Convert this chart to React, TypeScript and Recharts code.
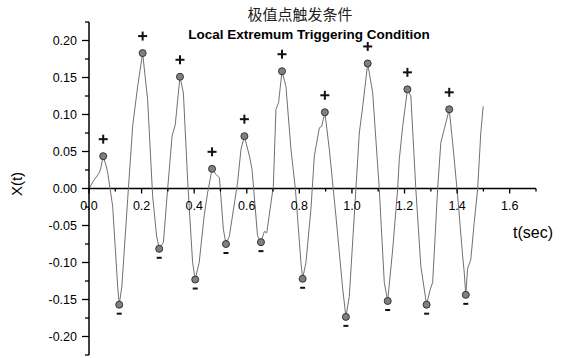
import { ComposedChart, Line, Scatter, XAxis, YAxis, ReferenceLine } from "recharts";

const tSec = [
  0.0, 0.02, 0.037, 0.044, 0.054, 0.064, 0.071, 0.09, 0.109, 0.115,
  0.125, 0.147, 0.166, 0.185, 0.204, 0.223, 0.242, 0.257, 0.267, 0.283,
  0.299, 0.316, 0.328, 0.346, 0.359, 0.375, 0.381, 0.394, 0.404, 0.419,
  0.438, 0.451, 0.468, 0.483, 0.496, 0.511, 0.521, 0.534, 0.565, 0.578,
  0.591, 0.61, 0.62, 0.641, 0.654, 0.667, 0.676, 0.701, 0.711, 0.721,
  0.734, 0.749, 0.768, 0.785, 0.806, 0.8125, 0.825, 0.844, 0.857, 0.876,
  0.885, 0.897, 0.914, 0.939, 0.965, 0.977, 0.99, 1.015, 1.028, 1.041,
  1.06, 1.079, 1.104, 1.123, 1.136, 1.155, 1.174, 1.18, 1.193, 1.211,
  1.224, 1.243, 1.262, 1.275, 1.284, 1.298, 1.307, 1.326, 1.338, 1.351,
  1.37, 1.383, 1.402, 1.421, 1.427, 1.433, 1.44, 1.452, 1.465, 1.478,
  1.49, 1.499,
];
const xVal = [
  0.0, 0.012, 0.02, 0.026, 0.0437, 0.032, 0.022, -0.024, -0.132, -0.157,
  -0.132, -0.015, 0.084, 0.138, 0.183, 0.12, -0.01, -0.064, -0.0815, -0.073,
  -0.001, 0.071, 0.086, 0.151, 0.129, 0.012, -0.024, -0.1, -0.123, -0.1,
  -0.037, -0.006, 0.0266, 0.019, 0.0144, -0.055, -0.075, -0.064, 0.0077, 0.053,
  0.0707, 0.044, 0.026, -0.064, -0.0725, -0.058, -0.06, 0.003, 0.107, 0.116,
  0.1585, 0.138, 0.053, -0.001, -0.1, -0.122, -0.1, -0.028, 0.044, 0.082,
  0.084, 0.103, 0.053, -0.037, -0.136, -0.1735, -0.146, -0.001, 0.075, 0.111,
  0.169, 0.129, -0.001, -0.127, -0.152, -0.082, 0.0, 0.039, 0.084, 0.134,
  0.125, -0.001, -0.105, -0.136, -0.157, -0.136, -0.127, 0.0, 0.062, 0.08,
  0.107, 0.062, -0.01, -0.091, -0.113, -0.1437, -0.108, -0.096, -0.046, -0.001,
  0.075, 0.111,
];

// local maxima (+) and minima (-)
const maxT = [0.054, 0.204, 0.346, 0.468, 0.591, 0.734, 0.897, 1.06, 1.211, 1.37];
const maxV = [0.0437, 0.183, 0.151, 0.0266, 0.0707, 0.1585, 0.103, 0.169, 0.134, 0.107];
const minT = [0.115, 0.267, 0.404, 0.521, 0.654, 0.8125, 0.977, 1.136, 1.284, 1.433];
const minV = [-0.157, -0.0815, -0.123, -0.075, -0.0725, -0.122, -0.1735, -0.152, -0.157, -0.1437];

const xTicks = [0, 0.1, 0.2, 0.3, 0.4, 0.5, 0.6, 0.7, 0.8, 0.9, 1.0, 1.1, 1.2, 1.3, 1.4, 1.5, 1.6, 1.7];
const yTicks = [
  -0.225, -0.2, -0.175, -0.15, -0.125, -0.1, -0.075, -0.05, -0.025, 0,
  0.025, 0.05, 0.075, 0.1, 0.125, 0.15, 0.175, 0.2, 0.225,
];

const FONT = "Arial, 'Liberation Sans', sans-serif";

const curve = tSec.map((t, i) => ({ t, v: xVal[i] }));
const maxima = maxT.map((t, i) => ({ t, v: maxV[i] }));
const minima = minT.map((t, i) => ({ t, v: minV[i] }));
const xTickData = xTicks.map((t) => ({ t, v: 0 }));

const isMajorX = (t: number) => Math.abs(t * 5 - Math.round(t * 5)) < 1e-6 && t < 1.65;
const isMajorY = (v: number) => Math.abs(v * 20 - Math.round(v * 20)) < 1e-6;

function YTick(props: any) {
  const { x, y, payload } = props;
  const major = isMajorY(payload.value);
  return (
    <g>
      <line x1={x - (major ? 7 : 4)} x2={x} y1={y} y2={y} stroke="#000" strokeWidth={1.3} />
      {major && (
        <text x={x - 12} y={y} dy={4.5} textAnchor="end" fontSize={12.5} fontFamily={FONT} fill="#000">
          {payload.value.toFixed(2)}
        </text>
      )}
    </g>
  );
}

// ticks of the x axis, which crosses at X(t) = 0
function XTickMark(props: any) {
  const { cx, cy, payload } = props;
  const major = isMajorX(payload.t);
  return (
    <g>
      <line x1={cx} x2={cx} y1={cy} y2={cy + (major ? 5 : 3)} stroke="#000" strokeWidth={1.3} />
      {major && (
        <text x={cx} y={cy + 21} textAnchor="middle" fontSize={12.5} fontFamily={FONT} fill="#000">
          {payload.t.toFixed(1)}
        </text>
      )}
    </g>
  );
}

function MaxMark(props: any) {
  const { cx, cy } = props;
  return (
    <g>
      <circle cx={cx} cy={cy} r={3.5} fill="#808080" stroke="#333" strokeWidth={1} />
      <line x1={cx - 4.5} x2={cx + 4.5} y1={cy - 17} y2={cy - 17} stroke="#111" strokeWidth={2} />
      <line x1={cx} x2={cx} y1={cy - 21.5} y2={cy - 12.5} stroke="#111" strokeWidth={2} />
    </g>
  );
}

function MinMark(props: any) {
  const { cx, cy } = props;
  return (
    <g>
      <circle cx={cx} cy={cy} r={3.5} fill="#808080" stroke="#333" strokeWidth={1} />
      <line x1={cx - 2.5} x2={cx + 2.5} y1={cy + 9} y2={cy + 9} stroke="#111" strokeWidth={2} />
    </g>
  );
}

export default function App() {
  return (
    <div style={{ position: "absolute", left: 0, top: 0, width: 562, height: 358, background: "#fff" }}>
      <ComposedChart width={562} height={358} margin={{ top: 22, right: 26, bottom: 3, left: 29 }}>
        <XAxis dataKey="t" type="number" domain={[0, 1.7]} hide />
        <YAxis
          dataKey="v"
          type="number"
          domain={[-0.225, 0.225]}
          ticks={yTicks}
          interval={0}
          width={60}
          tickSize={0}
          tickMargin={0}
          tickLine={false}
          tick={<YTick />}
          axisLine={{ stroke: "#000", strokeWidth: 1.5 }}
        />
        <ReferenceLine y={0} stroke="#000" strokeWidth={1.5} />
        <Line
          data={curve}
          dataKey="v"
          type="linear"
          stroke="#707070"
          strokeWidth={1}
          dot={false}
          activeDot={false}
          isAnimationActive={false}
        />
        <Scatter data={xTickData} dataKey="v" shape={<XTickMark />} isAnimationActive={false} />
        <Scatter data={maxima} dataKey="v" shape={<MaxMark />} isAnimationActive={false} />
        <Scatter data={minima} dataKey="v" shape={<MinMark />} isAnimationActive={false} />
      </ComposedChart>
      <div
        style={{
          position: "absolute", left: 200, top: 4, width: 200, textAlign: "center",
          fontSize: 15, lineHeight: "20px", fontFamily: "'Noto Sans CJK SC', sans-serif", color: "#222",
        }}
      >
        极值点触发条件
      </div>
      <div
        style={{
          position: "absolute", left: 159, top: 26, width: 300, textAlign: "center",
          fontSize: 13.5, lineHeight: "18px", fontWeight: "bold", fontFamily: FONT, color: "#000",
        }}
      >
        Local Extremum Triggering Condition
      </div>
      <div
        style={{
          position: "absolute", left: -3, top: 174, width: 40, height: 20, textAlign: "center",
          fontSize: 15, lineHeight: "20px", fontFamily: FONT, color: "#000", transform: "rotate(-90deg)",
        }}
      >
        X(t)
      </div>
      <div
        style={{
          position: "absolute", left: 513, top: 224, fontSize: 16, lineHeight: "18px",
          fontFamily: FONT, color: "#000",
        }}
      >
        t(sec)
      </div>
    </div>
  );
}
